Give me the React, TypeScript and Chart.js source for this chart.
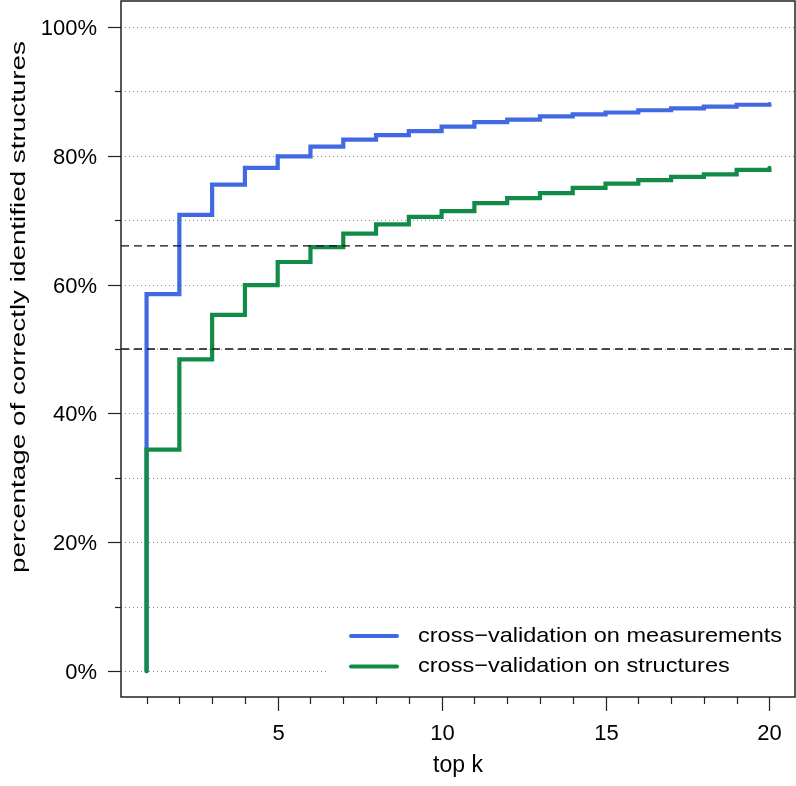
import React, { useEffect, useRef } from "react";
import { Chart, registerables } from "chart.js";

Chart.register(...registerables);

const topK = [1, 2, 3, 4, 5, 6, 7, 8, 9, 10, 11, 12, 13, 14, 15, 16, 17, 18, 19, 20];
const measurements = [58.5, 70.8, 75.5, 78.1, 79.9, 81.4, 82.5, 83.2, 83.8, 84.5, 85.2, 85.6, 86.1, 86.4, 86.7, 87.05, 87.35, 87.6, 87.9, 88.0];
const structures = [34.4, 48.4, 55.3, 59.9, 63.5, 65.8, 67.9, 69.35, 70.5, 71.4, 72.65, 73.4, 74.2, 75.0, 75.65, 76.2, 76.7, 77.1, 77.8, 78.1];
const startValue = 0;
const thresholds = [66, 50];
const yTicks = [0, 10, 20, 30, 40, 50, 60, 70, 80, 90, 100];
const yLabelTicks = [0, 20, 40, 60, 80, 100];
const xLabelTicks = [5, 10, 15, 20];
const seriesNames = ["cross\u2212validation on measurements", "cross\u2212validation on structures"];
const seriesColors = ["#4169E1", "#138B48"];
const xTitle = "top k";
const yTitle = "percentage of correctly identified structures";

const FONT = "'Liberation Sans', Arial, Helvetica, sans-serif";
const X_MIN = 0.22;
const X_MAX = 20.78;

function stepData(values: number[]) {
  return [{ x: topK[0], y: startValue }, ...topK.map((k, i) => ({ x: k, y: values[i] }))];
}

const deco = {
  id: "deco",
  beforeDatasetsDraw(chart: any) {
    const { ctx, chartArea: ca, scales } = chart;
    const y = scales.y;
    ctx.save();
    ctx.strokeStyle = "#8a8a8a";
    ctx.lineWidth = 1;
    ctx.setLineDash([1, 3]);
    yTicks.forEach((v) => {
      const py = Math.round(y.getPixelForValue(v)) + 0.5;
      ctx.beginPath();
      ctx.moveTo(ca.left, py);
      ctx.lineTo(ca.right, py);
      ctx.stroke();
    });
    ctx.restore();
  },
  afterDraw(chart: any) {
    const { ctx, chartArea: ca, scales } = chart;
    const x = scales.x;
    const y = scales.y;
    ctx.save();
    // legend box
    const lx = 327;
    const ly = 612;
    ctx.fillStyle = "#ffffff";
    ctx.fillRect(lx, ly, ca.right - lx, ca.bottom - ly);
    const rows = [636, 666.5];
    ctx.font = `21px ${FONT}`;
    const w0 = ctx.measureText(seriesNames[0]).width;
    const sx = 364 / w0;
    rows.forEach((ry, i) => {
      ctx.strokeStyle = seriesColors[i];
      ctx.lineWidth = 4;
      ctx.lineCap = "round";
      ctx.setLineDash([]);
      ctx.beginPath();
      ctx.moveTo(351, ry);
      ctx.lineTo(397, ry);
      ctx.stroke();
      ctx.save();
      ctx.translate(418, ry);
      ctx.scale(sx, 1);
      ctx.fillStyle = "#000";
      ctx.textAlign = "left";
      ctx.textBaseline = "middle";
      ctx.fillText(seriesNames[i], 0, 0);
      ctx.restore();
    });
    // box
    ctx.strokeStyle = "#222";
    ctx.lineWidth = 1.5;
    ctx.lineCap = "butt";
    ctx.strokeRect(ca.left, ca.top, ca.right - ca.left, ca.bottom - ca.top);
    // tick marks and labels
    ctx.lineWidth = 1.2;
    ctx.strokeStyle = "#222";
    ctx.fillStyle = "#000";
    ctx.font = `22px ${FONT}`;
    yTicks.forEach((v) => {
      const py = Math.round(y.getPixelForValue(v)) + 0.5;
      const major = yLabelTicks.includes(v);
      const len = major ? 13 : 6;
      ctx.beginPath();
      ctx.moveTo(ca.left, py);
      ctx.lineTo(ca.left - len, py);
      ctx.stroke();
      if (major) {
        ctx.textAlign = "right";
        ctx.textBaseline = "middle";
        ctx.fillText(`${v}%`, 97, py + 1);
      }
    });
    topK.forEach((k) => {
      const px = Math.round(x.getPixelForValue(k)) + 0.5;
      const major = xLabelTicks.includes(k);
      const len = major ? 14 : 7;
      ctx.beginPath();
      ctx.moveTo(px, ca.bottom);
      ctx.lineTo(px, ca.bottom + len);
      ctx.stroke();
      if (major) {
        ctx.textAlign = "center";
        ctx.textBaseline = "middle";
        ctx.fillText(String(k), px, 734);
      }
    });
    // x title
    ctx.font = `23px ${FONT}`;
    ctx.textAlign = "center";
    ctx.textBaseline = "middle";
    ctx.fillText(xTitle, (ca.left + ca.right) / 2, 766);
    // y title
    ctx.font = `21px ${FONT}`;
    const tw = ctx.measureText(yTitle).width;
    ctx.translate(19, 307);
    ctx.rotate(-Math.PI / 2);
    ctx.scale(532 / tw, 1);
    ctx.textAlign = "center";
    ctx.textBaseline = "middle";
    ctx.fillText(yTitle, 0, 0);
    ctx.restore();
  },
};

export default function App() {
  const ref = useRef<HTMLCanvasElement | null>(null);
  useEffect(() => {
    if (!ref.current) return;
    const chart = new Chart(ref.current, {
      type: "line",
      data: {
        datasets: [
          ...thresholds.map((t) => ({
            label: `threshold ${t}`,
            data: [
              { x: X_MIN, y: t },
              { x: X_MAX, y: t },
            ],
            borderColor: "#111",
            borderWidth: 1.3,
            borderDash: [8, 5],
            pointRadius: 0,
            order: 0,
          })),
          {
            label: seriesNames[1],
            data: stepData(structures),
            borderColor: seriesColors[1],
            borderWidth: 4.2,
            stepped: "before" as const,
            pointRadius: 0,
            borderCapStyle: "round" as const,
            borderJoinStyle: "miter" as const,
            order: 1,
          },
          {
            label: seriesNames[0],
            data: stepData(measurements),
            borderColor: seriesColors[0],
            borderWidth: 4.2,
            stepped: "before" as const,
            pointRadius: 0,
            borderCapStyle: "round" as const,
            borderJoinStyle: "miter" as const,
            order: 2,
          },
        ],
      },
      options: {
        responsive: false,
        maintainAspectRatio: false,
        animation: false,
        layout: { padding: { top: 1, right: 1, left: 0, bottom: 0 } },
        plugins: { legend: { display: false }, tooltip: { enabled: false } },
        scales: {
          x: {
            type: "linear",
            min: X_MIN,
            max: X_MAX,
            grid: { display: false, drawTicks: false },
            border: { display: false },
            ticks: { display: false },
            afterFit: (s: any) => {
              s.height = 89;
              s.paddingLeft = 0;
              s.paddingRight = 0;
            },
          },
          y: {
            type: "linear",
            min: -4,
            max: 104,
            grid: { display: false, drawTicks: false },
            border: { display: false },
            ticks: { display: false },
            afterFit: (s: any) => {
              s.width = 121;
              s.paddingTop = 0;
              s.paddingBottom = 0;
            },
          },
        },
      },
      plugins: [deco],
    } as any);
    return () => chart.destroy();
  }, []);
  return (
    <div style={{ position: "fixed", left: 0, top: 0, width: 796, height: 786, background: "#fff" }}>
      <canvas ref={ref} width={796} height={786} style={{ display: "block", width: 796, height: 786 }} />
    </div>
  );
}
